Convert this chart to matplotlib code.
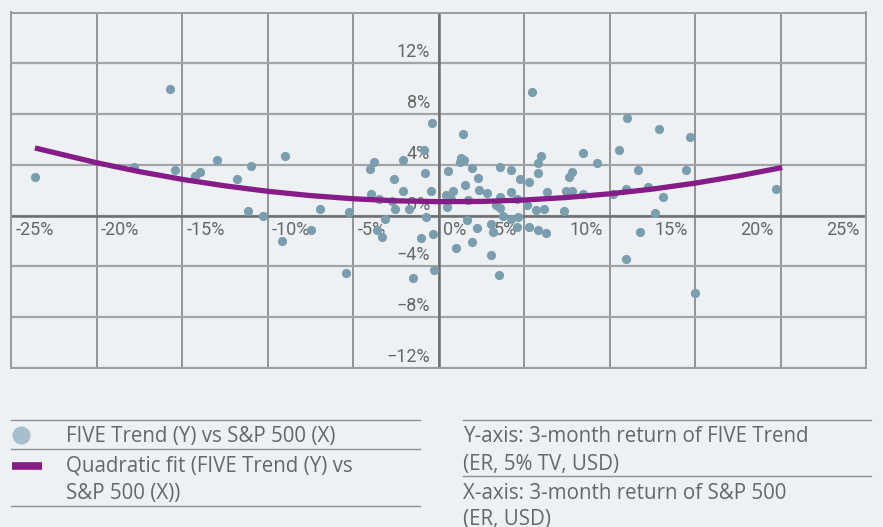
import matplotlib
matplotlib.use('Agg')
import matplotlib.pyplot as plt

plt.rcParams['font.family'] = ['Roboto', 'DejaVu Sans']

# 3-month returns in %, S&P 500 (x) vs FIVE Trend (y)
sp500 = [-23.6, -15.7, -17.8, -15.4, -14.26, -13.95, -12.94, -11.78, -10.95, -11.12,
         -10.26, -8.98, -9.13, -7.46, -6.93, -5.41, -5.25,
         -0.40, 1.43, -0.83, -3.79, -2.06, -3.99, -0.77, -2.58, -2.06, -0.42,
         -3.96, -3.50, -2.74, -2.54, -1.73, -3.13, -0.75, -3.58, -3.32, -1.04,
         -0.32, -1.51, -0.28, 0.56, 0.44, 0.85, 0.48, 0.71, 1.26, 1.33,
         1.49, 1.96, 1.55, 2.31, 1.74, 2.39, 2.85, 1.68, 2.27, 1.04,
         1.96, 3.05, 3.54, 3.61, 4.26, 4.77, 5.29, 4.24, 3.61, 4.57,
         3.34, 3.61, 3.77, 5.16, 5.70, 6.15, 4.26, 4.65, 3.07, 3.19,
         4.57, 5.29, 5.84, 6.27, 5.84, 6.00, 5.82, 6.36, 7.36, 7.44,
         7.83, 7.63, 7.79, 8.47, 8.43, 9.25,
         5.45, 11.0, 12.9, 14.7, 10.56, 11.67, 14.46, 12.27, 10.98, 10.22,
         13.15, 12.68, 11.8, 10.98, 14.98, 19.72]
five_trend = [3.08, 10.0, 3.82, 3.60, 3.16, 3.40, 4.37, 2.88, 3.92, 0.37,
              -0.02, 4.68, -1.96, -1.15, 0.55, -4.50, 0.26,
              7.27, 6.43, 5.18, 4.26, 4.37, 3.69, 3.32, 2.85, 1.91, 1.98,
              1.70, 1.33, 1.12, 0.49, 0.55, -0.26, -0.10, -1.10, -1.70, -1.73,
              -1.46, -4.92, -4.31, 3.55, 1.65, 1.98, 0.71, 1.33, 4.21, 4.52,
              4.39, 3.76, 2.41, 2.98, 1.25, 2.01, 1.75, -0.34, -0.94, -2.54,
              -2.09, -3.08, -4.71, 3.84, 3.63, 2.85, 2.64, 1.88, 1.44, 1.33,
              0.86, 0.57, -0.05, 0.81, 0.47, 0.55, -0.26, -0.10, -0.63, -1.31,
              -0.89, -0.89, -1.15, -1.39, 4.13, 4.73, 3.35, 1.86, 0.39, 1.98,
              1.91, 3.03, 3.47, 4.92, 1.67, 4.13,
              9.73, 7.66, 6.80, 6.20, 5.15, 3.60, 3.56, 2.27, 2.12, 1.68,
              1.44, 0.21, -1.25, -3.40, -6.07, 2.09]

# quadratic fit
fit_x = [-23.6, -20, -17.5, -15, -12.5, -10, -7.5, -5, -2.5, 0,
         2.5, 5, 7.5, 10, 12.5, 15, 17.5, 20.1]
fit_y = [5.33, 4.17, 3.47, 2.86, 2.35, 1.92, 1.58, 1.33, 1.17, 1.10,
         1.12, 1.23, 1.43, 1.72, 2.09, 2.56, 3.12, 3.79]

x_ticks = [-25, -20, -15, -10, -5, 0, 5, 10, 15, 20, 25]
y_ticks = [-12, -8, -4, 0, 4, 8, 12, 16]
y_labels = [-12, -8, -4, 0, 4, 8, 12]

legend_left = ['FIVE Trend (Y) vs S&P 500 (X)', 'Quadratic fit (FIVE Trend (Y) vs', 'S&P 500 (X))']
notes_right = ['Y-axis: 3-month return of FIVE Trend', '(ER, 5% TV, USD)',
               'X-axis: 3-month return of S&P 500', '(ER, USD)']

bg = '#edf1f4'
W, H = 883, 527
fig = plt.figure(figsize=(W / 100, H / 100), dpi=100, facecolor=bg)
ax = fig.add_axes([11 / W, 1 - 368 / H, 855 / W, 355.5 / H], facecolor=bg)
ax.set_xlim(-25, 25)
ax.set_ylim(-12, 16)

for x in x_ticks:
    ax.axvline(x, color='#7a7a7a', lw=1.1, zorder=1)
for y in y_ticks:
    ax.axhline(y, color='#a2a5a8', lw=1.6, zorder=1)
ax.axhline(0, color='#6e6e6e', lw=1.8, zorder=1)
ax.axvline(0, color='#6e6e6e', lw=1.8, zorder=1)
for s in ax.spines.values():
    s.set_color('#9a9da0')
    s.set_linewidth(1.4)
ax.set_xticks([])
ax.set_yticks([])

tick_color = '#666666'
tfs = 13
for x in x_ticks:
    if x <= 0:
        ax.annotate(f'{x}%', (x, 0), xytext=(3, -10.5), textcoords='offset points',
                    ha='left', va='center', fontsize=tfs, color=tick_color, zorder=2)
    else:
        ax.annotate(f'{x}%', (x, 0), xytext=(-5, -10.5), textcoords='offset points',
                    ha='right', va='center', fontsize=tfs, color=tick_color, zorder=2)
for y in y_labels:
    lab = f'{y}%'.replace('-', '\u2212')
    ax.annotate(lab, (0, y), xytext=(-6, 8), textcoords='offset points',
                ha='right', va='center', fontsize=tfs, color=tick_color, zorder=2)

ax.scatter(sp500, five_trend, s=44, color='#7b9eaf', linewidths=0, zorder=3)
ax.plot(fit_x, fit_y, color='#861c87', lw=3.8, solid_capstyle='butt', zorder=4)

# legend / notes area drawn in pixel coordinates
lg = fig.add_axes([0, 0, 1, 1], facecolor='none')
lg.set_xlim(0, W)
lg.set_ylim(H, 0)
lg.axis('off')
line_col = '#8c8f92'
for y in [419.7, 449.3, 505.7]:
    lg.plot([11, 420], [y, y], color=line_col, lw=1.0)
for y in [419.7, 476]:
    lg.plot([463, 871], [y, y], color=line_col, lw=1.0)

txt = '#63686b'
fs = 14.8
lfont = ['Open Sans', 'DejaVu Sans']
lg.scatter([21], [435], s=170, color='#a7bfcc', linewidths=0)
lg.plot([12, 42], [465.5, 465.5], color='#861c87', lw=5.5, solid_capstyle='butt')
for t, yb in zip(legend_left, [441.7, 471.7, 498.5]):
    lg.text(66, yb, t, fontsize=fs, color=txt, va='baseline', family=lfont)
for t, yb in zip(notes_right, [442.3, 470.3, 499, 525]):
    lg.text(463, yb, t, fontsize=fs, color=txt, va='baseline', family=lfont)

plt.savefig('out.png', dpi=100, facecolor=bg)
